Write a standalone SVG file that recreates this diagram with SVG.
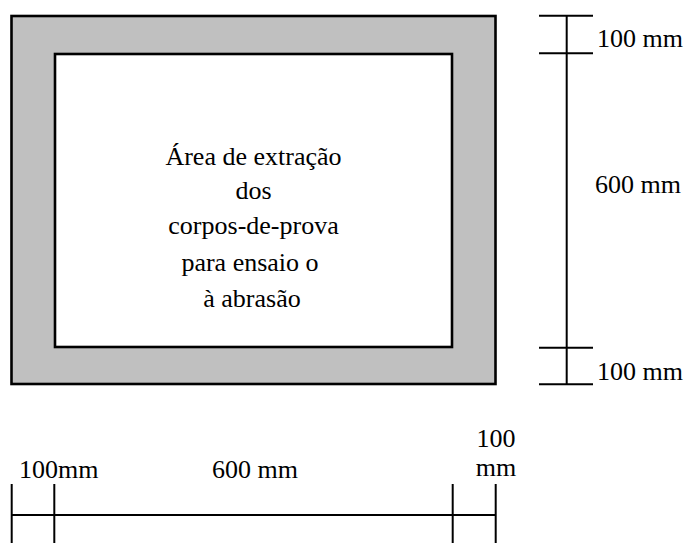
<svg xmlns="http://www.w3.org/2000/svg" width="688" height="543" viewBox="0 0 688 543">
<style>
.t{font-family:"Liberation Serif","Times New Roman",serif;font-size:26px;fill:#000}
.m{text-anchor:middle}
.d{stroke:#000;stroke-width:2;fill:none}
</style>
<rect width="688" height="543" fill="#fff"/>
<g id="outer-frame">
<rect x="11.5" y="16" width="484" height="368" fill="#c0c0c0" stroke="#000" stroke-width="2.6"/>
</g>
<g id="inner-area">
<rect x="55" y="54" width="397" height="293" fill="#fff" stroke="#000" stroke-width="2.6"/>
<text class="t m" x="253.5" y="165">Área de extração</text>
<text class="t m" x="253.5" y="199">dos</text>
<text class="t m" x="253.5" y="234">corpos-de-prova</text>
<text class="t m" x="250" y="271">para ensaio o</text>
<text class="t m" x="252" y="307">à abrasão</text>
</g>
<g id="connectors">
<line class="d" x1="566.7" y1="15.5" x2="566.7" y2="384.5"/>
<line class="d" x1="539" y1="15.7" x2="593" y2="15.7"/>
<line class="d" x1="539" y1="53.3" x2="593" y2="53.3"/>
<line class="d" x1="539" y1="347.7" x2="593" y2="347.7"/>
<line class="d" x1="539" y1="384.3" x2="593" y2="384.3"/>
<line class="d" x1="11.5" y1="515" x2="495.7" y2="515"/>
<line class="d" x1="11.7" y1="484" x2="11.7" y2="543"/>
<line class="d" x1="54.3" y1="484" x2="54.3" y2="543"/>
<line class="d" x1="452.7" y1="484" x2="452.7" y2="543"/>
<line class="d" x1="495.7" y1="484" x2="495.7" y2="543"/>
</g>
<g id="labels">
<text class="t" x="597" y="47">100 mm</text>
<text class="t" x="595" y="193">600 mm</text>
<text class="t" x="597" y="380">100 mm</text>
<text class="t" x="19" y="478">100mm</text>
<text class="t" x="212" y="478">600 mm</text>
<text class="t m" x="496" y="447">100</text>
<text class="t m" x="496" y="476">mm</text>
</g>
</svg>
